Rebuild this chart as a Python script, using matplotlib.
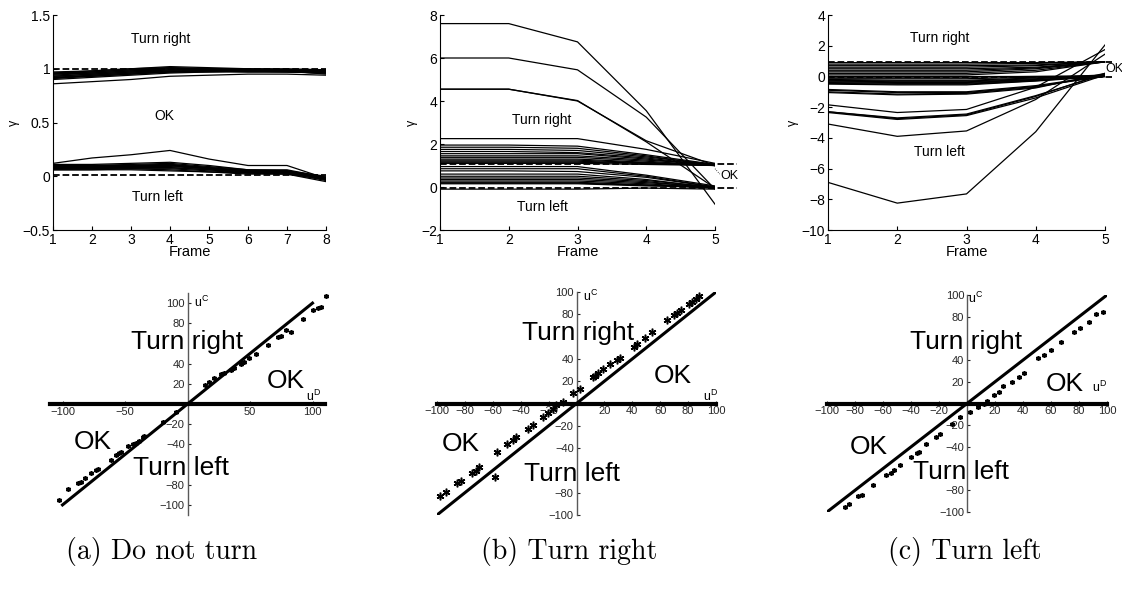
import matplotlib
matplotlib.use('Agg')
from matplotlib import pyplot as plt

plt.rcParams['font.family'] = ['Liberation Sans', 'DejaVu Sans']
plt.rcParams['axes.unicode_minus'] = True

# ---- top row: gamma per frame ----
frames_a = [1, 2, 3, 4, 5, 6, 7, 8]
frames_bc = [1, 2, 3, 4, 5]

a_hi = [
    [0.86, 0.88, 0.90, 0.93, 0.94, 0.95, 0.95, 0.94],
    [0.90, 0.92, 0.94, 0.96, 0.97, 0.97, 0.97, 0.96],
    [0.91, 0.93, 0.95, 0.97, 0.97, 0.98, 0.97, 0.96],
    [0.92, 0.94, 0.96, 0.98, 0.98, 0.98, 0.98, 0.97],
    [0.93, 0.95, 0.97, 0.98, 0.98, 0.98, 0.98, 0.97],
    [0.93, 0.95, 0.97, 0.99, 0.99, 0.98, 0.98, 0.98],
    [0.94, 0.96, 0.98, 0.99, 0.99, 0.99, 0.98, 0.97],
    [0.95, 0.96, 0.98, 1.00, 0.99, 0.99, 0.99, 0.98],
    [0.95, 0.97, 0.99, 1.00, 1.00, 0.99, 0.99, 0.98],
    [0.96, 0.97, 0.99, 1.01, 1.00, 0.99, 0.99, 0.99],
    [0.96, 0.98, 1.00, 1.01, 1.00, 1.00, 0.99, 0.97],
    [0.97, 0.98, 1.00, 1.02, 1.01, 1.00, 1.00, 0.99],
    [0.91, 0.94, 0.96, 0.97, 0.98, 0.98, 0.98, 0.95],
    [0.92, 0.93, 0.95, 0.97, 0.98, 0.97, 0.97, 0.96],
]
a_lo = [
    [0.12, 0.17, 0.20, 0.24, 0.16, 0.10, 0.10, -0.02],
    [0.11, 0.11, 0.12, 0.13, 0.10, 0.06, 0.06, -0.01],
    [0.10, 0.10, 0.11, 0.12, 0.09, 0.06, 0.05, -0.02],
    [0.10, 0.10, 0.10, 0.11, 0.08, 0.05, 0.05, -0.03],
    [0.09, 0.09, 0.10, 0.10, 0.08, 0.05, 0.04, -0.01],
    [0.09, 0.09, 0.09, 0.10, 0.07, 0.04, 0.04, -0.02],
    [0.08, 0.08, 0.09, 0.09, 0.07, 0.04, 0.04, -0.03],
    [0.08, 0.08, 0.08, 0.08, 0.06, 0.04, 0.03, -0.02],
    [0.07, 0.07, 0.08, 0.08, 0.06, 0.03, 0.03, -0.04],
    [0.07, 0.07, 0.07, 0.07, 0.05, 0.03, 0.03, -0.01],
    [0.06, 0.06, 0.07, 0.06, 0.04, 0.03, 0.02, -0.03],
    [0.06, 0.06, 0.06, 0.05, 0.04, 0.02, 0.02, -0.05],
    [0.11, 0.10, 0.10, 0.10, 0.07, 0.05, 0.05, 0.00],
    [0.08, 0.09, 0.10, 0.11, 0.08, 0.05, 0.05, -0.02],
]
b_lines = [
    [7.6, 7.6, 6.75, 3.55, -0.8],
    [6.0, 6.0, 5.45, 3.25, -0.1],
    [4.55, 4.55, 4.0, 2.15, 1.0],
    [4.55, 4.55, 4.02, 2.1, -0.05],
    [2.25, 2.25, 2.25, 1.75, 1.1],
    [1.95, 1.95, 1.9, 1.5, 1.05],
    [1.85, 1.85, 1.8, 1.45, 1.0],
    [1.75, 1.75, 1.7, 1.4, 1.05],
    [1.65, 1.65, 1.6, 1.35, 1.0],
    [1.55, 1.55, 1.55, 1.3, 1.0],
    [1.45, 1.45, 1.45, 1.25, 1.05],
    [1.38, 1.38, 1.38, 1.2, 1.0],
    [1.3, 1.3, 1.3, 1.15, 1.0],
    [1.25, 1.25, 1.25, 1.12, 1.02],
    [1.2, 1.2, 1.2, 1.1, 1.0],
    [1.15, 1.15, 1.15, 1.1, 1.0],
    [1.1, 1.1, 1.1, 1.05, 1.0],
    [0.95, 0.95, 0.95, 0.55, 0.05],
    [0.85, 0.85, 0.85, 0.5, 0.0],
    [0.75, 0.75, 0.72, 0.45, 0.0],
    [0.6, 0.6, 0.6, 0.35, -0.05],
    [0.5, 0.5, 0.5, 0.3, 0.0],
    [0.42, 0.42, 0.42, 0.25, -0.05],
    [0.35, 0.35, 0.35, 0.2, 0.0],
    [0.28, 0.28, 0.28, 0.15, -0.05],
    [0.22, 0.22, 0.22, 0.1, 0.0],
    [0.18, 0.18, 0.18, 0.08, -0.05],
    [0.15, 0.15, 0.15, 0.05, 0.0],
    [-0.1, -0.1, -0.1, -0.05, -0.1],
]
c_lines = [
    [-6.9, -8.25, -7.65, -3.6, 2.05],
    [-3.1, -3.9, -3.55, -1.5, 1.45],
    [-2.3, -2.75, -2.5, -1.3, 0.2],
    [-2.35, -2.8, -2.55, -1.4, 0.1],
    [-2.3, -2.7, -2.45, -1.25, 0.15],
    [-1.85, -2.35, -2.15, -0.7, 1.75],
    [-0.85, -1.0, -1.0, -0.6, 0.05],
    [-0.9, -1.05, -1.05, -0.65, 0.0],
    [-1.0, -1.15, -1.1, -0.7, 0.1],
    [-1.05, -1.2, -1.15, -0.75, 0.2],
    [-0.5, -0.55, -0.55, -0.3, 0.0],
    [-0.45, -0.5, -0.5, -0.28, 0.03],
    [-0.4, -0.45, -0.45, -0.25, 0.05],
    [-0.35, -0.4, -0.4, -0.22, 0.0],
    [-0.3, -0.35, -0.35, -0.2, 0.0],
    [-0.25, -0.3, -0.3, -0.15, 0.08],
    [-0.2, -0.25, -0.25, -0.1, 0.1],
    [-0.15, -0.15, -0.15, -0.05, 0.0],
    [-0.05, -0.05, -0.05, 0.0, 0.05],
    [0.0, 0.0, 0.0, 0.0, 0.0],
    [0.1, 0.1, 0.1, 0.3, 0.95],
    [0.2, 0.2, 0.2, 0.4, 0.95],
    [0.3, 0.3, 0.3, 0.5, 0.95],
    [0.4, 0.4, 0.4, 0.55, 0.95],
    [0.5, 0.5, 0.5, 0.6, 0.95],
    [0.6, 0.6, 0.6, 0.7, 0.95],
    [0.7, 0.7, 0.7, 0.75, 0.95],
    [0.8, 0.8, 0.8, 0.85, 0.95],
    [0.9, 0.9, 0.9, 0.9, 0.95],
]

# ---- bottom row: u^D vs u^C ----
a_uD = [-102.7, -96, -88, -85, -82, -77, -73, -72, -61, -57, -55, -53, -48, -44, -41, -39, -36, -35,
        -20, -9, 13.9, 17.3, 21.3, 26.7, 29.3, 34.7, 37.3, 42.7, 45.3, 49.3, 54.7, 64, 72, 74.7,
        78.7, 82.7, 92, 100, 104, 106.7, 110.7]
a_uC = [-95, -84, -78, -77, -73, -68, -65, -64, -55, -51, -49, -48, -42, -40, -39, -37, -33, -32,
        -18, -8, 19.3, 21.7, 26, 29.3, 31, 34, 36, 40, 41.7, 46, 50, 58.3, 66, 67.7,
        73.3, 71, 84, 93, 95, 96, 107]

b_uD = [-97.6, -93.5, -85.5, -83, -74.7, -72.3, -70, -58.3, -57.3, -50, -45.8, -43.4, -35, -31.3,
        -24, -20.5, -16.9, -14.5, -10, -2.4, 2.4, 12, 13, 15.7, 19.3, 24, 29, 31, 41, 43.4, 49.4,
        54.2, 64.6, 70, 72, 74.7, 80.7, 83, 86, 88]
b_uC = [-83, -79, -71, -69.6, -62.7, -60.3, -56.7, -65.7, -43.9, -36.7, -32.8, -29.9, -23, -19.4,
        -12, -8.4, -4.5, -1.5, 1.5, 9, 13.4, 23.9, 24.5, 27.5, 31.3, 35.2, 39.4, 41, 50.7, 53.7, 59,
        64.2, 74.6, 79.7, 81, 83.6, 89.6, 91, 94, 96]

c_uD = [-87, -84, -78, -75, -67.5, -58, -54, -52, -48, -40, -36, -34, -29, -22, -19.5, -11, -5,
        2, 8, 12, 14, 19, 22.6, 26, 32, 37, 40.6, 51, 55, 60, 67, 76.6, 81, 87, 92, 97]
c_uC = [-95, -93, -85.5, -84, -75, -66, -64, -61.5, -57, -49, -46, -44.6, -37.5, -31, -27.7, -19, -12.3,
        -7.7, -3, 0, 2.5, 7.7, 10.8, 16, 20, 24.6, 28.3, 41.5, 44.6, 49, 57, 66, 70, 75, 82.5, 84.6]

captions = ['(a) Do not turn', '(b) Turn right', '(c) Turn left']

W, H = 1122, 590
fig = plt.figure(figsize=(W / 100, H / 100), dpi=100)


def rect(x0, x1, y0, y1):
    # pixel box -> figure fraction
    return [x0 / W, 1 - y1 / H, (x1 - x0) / W, (y1 - y0) / H]


def top_axes(r, xs, groups, ylim, yticks, bounds, dash_end):
    ax = fig.add_axes(r)
    for g in groups:
        for ln in g:
            ax.plot(xs, ln, 'k-', lw=0.9)
    for b in bounds:
        ax.plot([xs[0], dash_end], [b, b], 'k--', lw=1.3, clip_on=False)
    ax.set_xlim(xs[0], xs[-1])
    ax.set_ylim(*ylim)
    ax.set_xticks(xs)
    ax.set_yticks(yticks)
    ax.spines['top'].set_visible(False)
    ax.spines['right'].set_visible(False)
    ax.tick_params(direction='in', length=3, labelsize=10, pad=2)
    ax.set_xlabel('Frame', fontsize=10.5, labelpad=-1)
    ax.set_ylabel('γ', fontsize=9, labelpad=2)
    return ax


ax = top_axes(rect(53, 326, 15, 230), frames_a, [a_hi, a_lo], (-0.5, 1.5),
              [-0.5, 0, 0.5, 1, 1.5], [1.0, 0.01], 8)
ax.set_yticklabels(['−0.5', '0', '0.5', '1', '1.5'])
ax.text(3.77, 1.28, 'Turn right', ha='center', va='center', fontsize=10)
ax.text(3.85, 0.56, 'OK', ha='center', va='center', fontsize=10)
ax.text(3.67, -0.19, 'Turn left', ha='center', va='center', fontsize=10)

ax = top_axes(rect(440, 715, 15, 230), frames_bc, [b_lines], (-2, 8),
              [-2, 0, 2, 4, 6, 8], [1.05, -0.04], 5.32)
ax.text(2.48, 3.1, 'Turn right', ha='center', va='center', fontsize=10)
ax.text(2.49, -0.93, 'Turn left', ha='center', va='center', fontsize=10)
ax.text(5.08, 0.5, 'OK', ha='left', va='center', fontsize=9)
ax.plot([5.0, 5.07], [0.85, 0.6], 'k:', lw=0.6, clip_on=False)

ax = top_axes(rect(828, 1105, 15, 230), frames_bc, [c_lines], (-10, 4),
              [-10, -8, -6, -4, -2, 0, 2, 4], [0.97, -0.02], 5.1)
ax.text(2.62, 2.5, 'Turn right', ha='center', va='center', fontsize=10)
ax.text(2.61, -4.9, 'Turn left', ha='center', va='center', fontsize=10)
ax.text(5.0, 0.5, 'OK', ha='left', va='center', fontsize=9, clip_on=False)


def bottom_axes(r, lim, ud, uc, xticks, yticks, msize, labels):
    ax = fig.add_axes(r)
    ax.plot([-100, 100], [-100, 100], 'k-', lw=2.2, zorder=3)
    ax.plot(ud, uc, ls='none', marker=(6, 2, 0), ms=msize, mec='k', mew=1.1,
            zorder=4, clip_on=False)
    ax.set_xlim(*lim)
    ax.set_ylim(*lim)
    for s in ['top', 'right']:
        ax.spines[s].set_visible(False)
    ax.spines['bottom'].set_position('zero')
    ax.spines['left'].set_position('zero')
    ax.spines['bottom'].set_linewidth(3)
    ax.spines['left'].set_color('0.35')
    ax.spines['left'].set_linewidth(1)
    ax.set_xticks(xticks)
    ax.set_yticks(yticks)
    ax.tick_params(direction='in', length=2, labelsize=8, pad=2, colors='0.15')
    for t, x, y, fs in labels:
        ax.text(x, y, t, ha='center', va='center', fontsize=fs)
    return ax


xt20 = [-100, -80, -60, -40, -20, 20, 40, 60, 80, 100]
yt = [-100, -80, -40, -20, 20, 40, 80, 100]

bottom_axes(rect(50, 325, 293, 515), (-110, 110), a_uD, a_uC,
            [-100, -50, 50, 100], yt, 3.5,
            [('Turn right', 0, 61, 19), ('OK', 79, 23, 19), ('OK', -76, -38, 19),
             ('Turn left', -5, -63, 19), ('$\\mathregular{u^C}$', 11, 101, 9),
             ('$\\mathregular{u^D}$', 101, 8, 9)])
bottom_axes(rect(437, 716, 292, 515), (-100, 100), b_uD, b_uC,
            xt20, yt, 5.5,
            [('Turn right', 1, 63, 19), ('OK', 69, 25, 19), ('OK', -83, -36, 19),
             ('Turn left', -3, -63, 19), ('$\\mathregular{u^C}$', 10, 96, 9),
             ('$\\mathregular{u^D}$', 96, 6, 9)])
bottom_axes(rect(827, 1107, 295, 512), (-100, 100), c_uD, c_uC,
            xt20, yt, 3.5,
            [('Turn right', -1, 57, 19), ('OK', 70, 18, 19), ('OK', -70, -40, 19),
             ('Turn left', -4.6, -63, 19), ('$\\mathregular{u^C}$', 6, 97, 9),
             ('$\\mathregular{u^D}$', 95, 15, 9)])

for cx, txt in zip([162, 569, 965], captions):
    fig.text(cx / W, 1 - 552 / H, txt, ha='center', va='center', fontsize=20, family='cmr10')

fig.savefig('out.png', dpi=100)
